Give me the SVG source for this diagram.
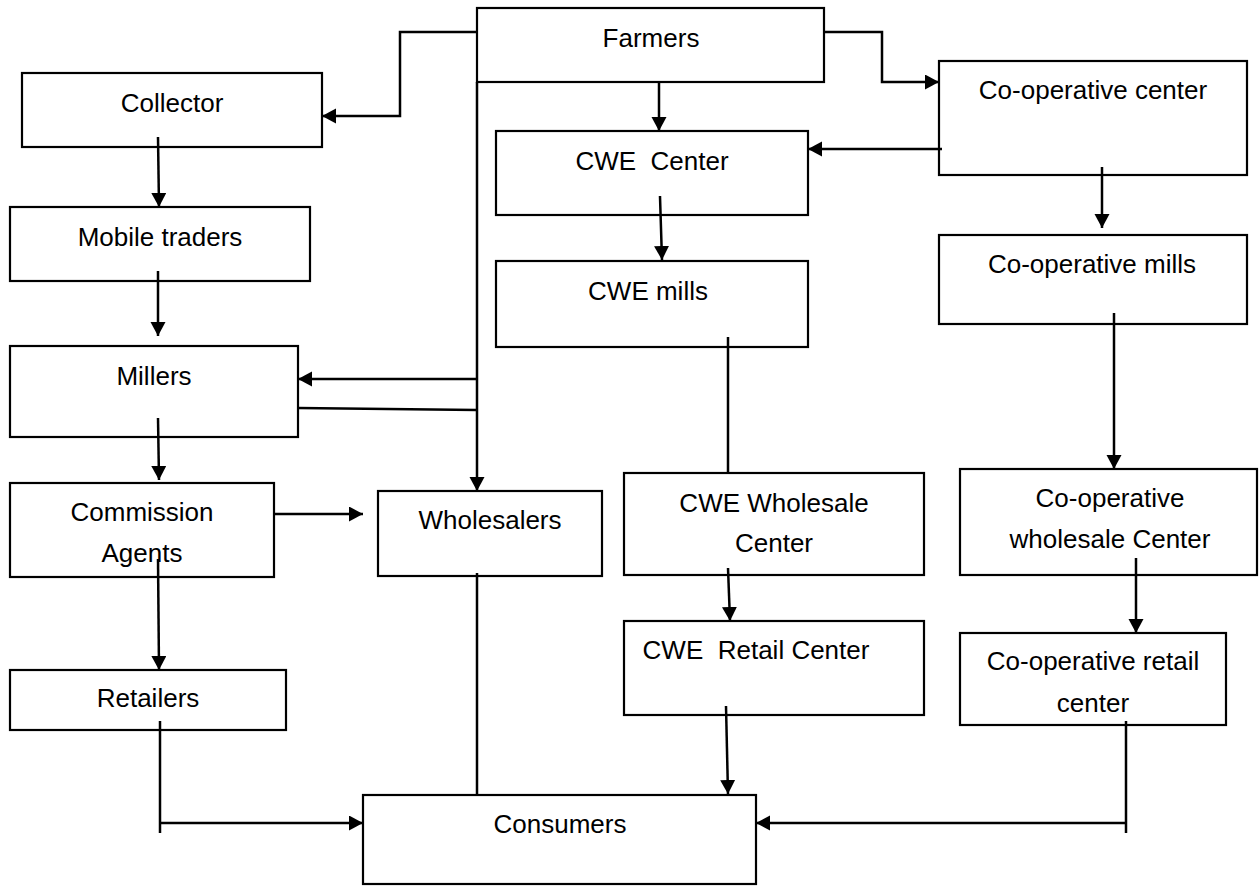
<svg xmlns="http://www.w3.org/2000/svg" width="1259" height="886" viewBox="0 0 1259 886">
<style>
.box{fill:#fff;stroke:#000;stroke-width:2.2}
.t{font-family:"Liberation Sans",Arial,sans-serif;font-size:26px;fill:#000;text-anchor:middle;white-space:pre}
.c{fill:none;stroke:#000;stroke-width:2.5}
.a{marker-end:url(#ah)}
</style>
<defs>
<marker id="ah" markerUnits="userSpaceOnUse" markerWidth="16" markerHeight="16" refX="14" refY="7.5" orient="auto">
<path d="M0,0 L14,7.5 L0,15 z" fill="#000"/>
</marker>
</defs>
<rect width="1259" height="886" fill="#fff"/>
<g id="farmers"><rect class="box" x="477" y="8" width="347" height="74"/><text class="t" x="651" y="47">Farmers</text></g>
<g id="collector"><rect class="box" x="22" y="73" width="300" height="74"/><text class="t" x="172" y="112">Collector</text></g>
<g id="coop-center"><rect class="box" x="939" y="61" width="308" height="114"/><text class="t" x="1093" y="99">Co-operative center</text></g>
<g id="cwe-center"><rect class="box" x="496" y="131" width="312" height="84"/><text class="t" x="652" y="170">CWE  Center</text></g>
<g id="mobile-traders"><rect class="box" x="10" y="207" width="300" height="74"/><text class="t" x="160" y="246">Mobile traders</text></g>
<g id="cwe-mills"><rect class="box" x="496" y="261" width="312" height="86"/><text class="t" x="648" y="300">CWE mills</text></g>
<g id="coop-mills"><rect class="box" x="939" y="235" width="308" height="89"/><text class="t" x="1092" y="273">Co-operative mills</text></g>
<g id="millers"><rect class="box" x="10" y="346" width="288" height="91"/><text class="t" x="154" y="385">Millers</text></g>
<g id="commission-agents"><rect class="box" x="10" y="483" width="264" height="94"/><text class="t" x="142" y="521">Commission</text><text class="t" x="142" y="562">Agents</text></g>
<g id="wholesalers"><rect class="box" x="378" y="491" width="224" height="85"/><text class="t" x="490" y="529">Wholesalers</text></g>
<g id="cwe-wholesale"><rect class="box" x="624" y="473" width="300" height="102"/><text class="t" x="774" y="512">CWE Wholesale</text><text class="t" x="774" y="552">Center</text></g>
<g id="coop-wholesale"><rect class="box" x="960" y="469" width="297" height="106"/><text class="t" x="1110" y="507">Co-operative</text><text class="t" x="1110" y="548">wholesale Center</text></g>
<g id="cwe-retail"><rect class="box" x="624" y="621" width="300" height="94"/><text class="t" x="756" y="659">CWE  Retail Center</text></g>
<g id="retailers"><rect class="box" x="10" y="670" width="276" height="60"/><text class="t" x="148" y="707">Retailers</text></g>
<g id="coop-retail"><rect class="box" x="960" y="633" width="266" height="92"/><text class="t" x="1093" y="670">Co-operative retail</text><text class="t" x="1093" y="712">center</text></g>
<g id="consumers"><rect class="box" x="363" y="795" width="393" height="89"/><text class="t" x="560" y="833">Consumers</text></g>
<g id="connectors">
<polyline class="c a" points="477,32 400,32 400,116 322,116"/>
<polyline class="c a" points="824,32 882,32 882,82 939,82"/>
<line class="c a" x1="659" y1="83" x2="659" y2="131"/>
<line class="c a" x1="942" y1="149" x2="808" y2="149"/>
<line class="c a" x1="477" y1="82" x2="477" y2="491"/>
<line class="c a" x1="477" y1="379" x2="298" y2="379"/>
<line class="c" x1="298" y1="408" x2="477" y2="410"/>
<line class="c a" x1="158" y1="137" x2="159" y2="207"/>
<line class="c a" x1="158" y1="271" x2="158" y2="336"/>
<line class="c a" x1="158" y1="418" x2="159" y2="480"/>
<line class="c a" x1="274" y1="514" x2="363" y2="514"/>
<line class="c a" x1="158" y1="559" x2="159" y2="670"/>
<line class="c" x1="160" y1="721" x2="160" y2="833"/>
<line class="c a" x1="160" y1="823" x2="363" y2="823"/>
<line class="c" x1="477" y1="573" x2="477" y2="795"/>
<line class="c a" x1="660" y1="196" x2="662" y2="260"/>
<line class="c" x1="728" y1="337" x2="728" y2="473"/>
<line class="c a" x1="728" y1="568" x2="730" y2="621"/>
<line class="c a" x1="726" y1="706" x2="728" y2="794"/>
<line class="c a" x1="1102" y1="167" x2="1102" y2="228"/>
<line class="c a" x1="1114" y1="313" x2="1114" y2="469"/>
<line class="c a" x1="1136" y1="558" x2="1136" y2="633"/>
<line class="c" x1="1126" y1="721" x2="1126" y2="833"/>
<line class="c a" x1="1126" y1="823" x2="756" y2="823"/>
</g>
</svg>
